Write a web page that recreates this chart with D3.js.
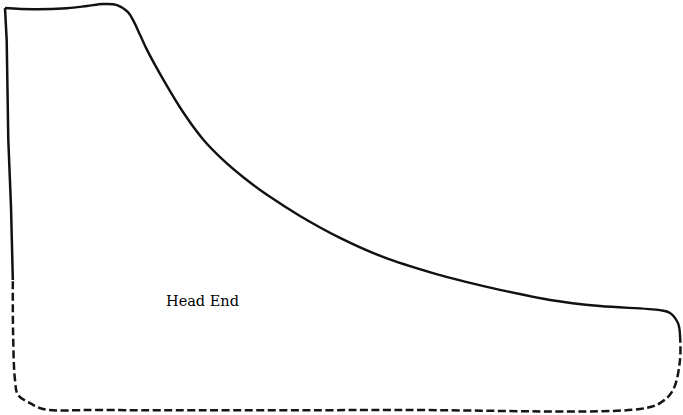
<!DOCTYPE html>
<html>
<head>
<meta charset="utf-8">
<script src="https://cdn.jsdelivr.net/npm/d3@7"></script>
<style>
  body { margin: 0; background: #fff; }
  svg { display: block; }
</style>
</head>
<body>
<svg id="card"></svg>
<script>
// indicator card, head end. x = % of stroke, y = % of top pressure
// admission line (straight)
let admissionStroke = [1.16, 0.89, 0.49, 0.25, 0];
let admissionPressure = [32.0, 50.0, 66.5, 91.1, 99.0];

// steam + expansion line
let steamStroke = [0, 4.15, 9.19, 12.15, 14.52, 16.59, 18.22, 19.11, 20.0, 21.04, 23.41,
    26.37, 29.33, 32.30, 35.26, 39.26, 43.70, 49.63, 56.0, 63.41, 68.44, 73.33,
    80.74, 88.15, 97.04, 98.52, 99.70, 100];
let steamPressure = [99.0, 98.7, 98.95, 99.5, 100, 99.75, 98.0, 95.6, 92.4, 88.7, 81.5,
    73.4, 66.7, 61.6, 57.4, 52.5, 47.8, 42.4, 37.7, 33.7, 31.5, 29.6,
    27.1, 25.6, 24.6, 23.9, 21.4, 18.5];

// exhaust + compression (dashed)
let exhaustStroke = [100, 100, 98.96, 97.04, 94.07, 58.5, 14.07, 5.63, 3.70, 1.93, 1.48, 1.19, 1.16];
let exhaustPressure = [18.5, 12.3, 4.9, 1.7, 0.25, 0, 0, 0.25, 1.7, 3.7, 7.4, 19.7, 32.0];

let labels = [{text: "Head End", stroke: 23.85, pressure: 25.6}];

function drawCard(){
    let config = cardConfig();
    let scales = cardScales(config);
    drawLines(scales, config);
    drawLabels(scales, config);
}

function cardConfig(){
    let width = 683;
    let height = 415;
    let margin = {top: 4, bottom: 5, left: 5, right: 3};
    let bodyWidth = width - margin.left - margin.right;
    let bodyHeight = height - margin.top - margin.bottom;
    let container = d3.select("#card")
        .attr("width", width)
        .attr("height", height);
    return {width, height, margin, bodyWidth, bodyHeight, container};
}

function cardScales(config){
    let {margin, bodyWidth, bodyHeight} = config;
    let xScale = d3.scaleLinear().domain([0, 100]).range([margin.left, margin.left + bodyWidth]);
    let yScale = d3.scaleLinear().domain([0, 100]).range([margin.top + bodyHeight, margin.top]);
    return {xScale, yScale};
}

function toPoints(xs, ys){
    let pts = [];
    for(let i = 0; i < xs.length; i++){
        pts.push([xs[i], ys[i]]);
    }
    return pts;
}

function drawLines(scales, config){
    let {container} = config;
    let {xScale, yScale} = scales;
    let curved = d3.line()
        .x(d => xScale(d[0]))
        .y(d => yScale(d[1]))
        .curve(d3.curveCatmullRom.alpha(0.5));
    let straight = d3.line()
        .x(d => xScale(d[0]))
        .y(d => yScale(d[1]));

    container.append("path")
        .datum(toPoints(exhaustStroke, exhaustPressure))
        .attr("d", curved)
        .attr("fill", "none")
        .attr("stroke", "#151515")
        .attr("stroke-width", 2.5)
        .attr("stroke-dasharray", "8,3.5");

    container.append("path")
        .datum(toPoints(admissionStroke, admissionPressure))
        .attr("d", straight)
        .attr("fill", "none")
        .attr("stroke", "#111")
        .attr("stroke-width", 2.5)
        .attr("stroke-linejoin", "round");

    container.append("path")
        .datum(toPoints(steamStroke, steamPressure))
        .attr("d", curved)
        .attr("fill", "none")
        .attr("stroke", "#111")
        .attr("stroke-width", 2.4)
        .attr("stroke-linejoin", "round");
}

function drawLabels(scales, config){
    let {container} = config;
    let {xScale, yScale} = scales;
    container.selectAll(".lbl").data(labels).enter().append("text")
        .attr("class", "lbl")
        .attr("x", d => xScale(d.stroke))
        .attr("y", d => yScale(d.pressure))
        .attr("font-family", "DejaVu Serif, serif")
        .attr("font-size", 14.5)
        .attr("fill", "#000")
        .text(d => d.text);
}

drawCard();
</script>
</body>
</html>
